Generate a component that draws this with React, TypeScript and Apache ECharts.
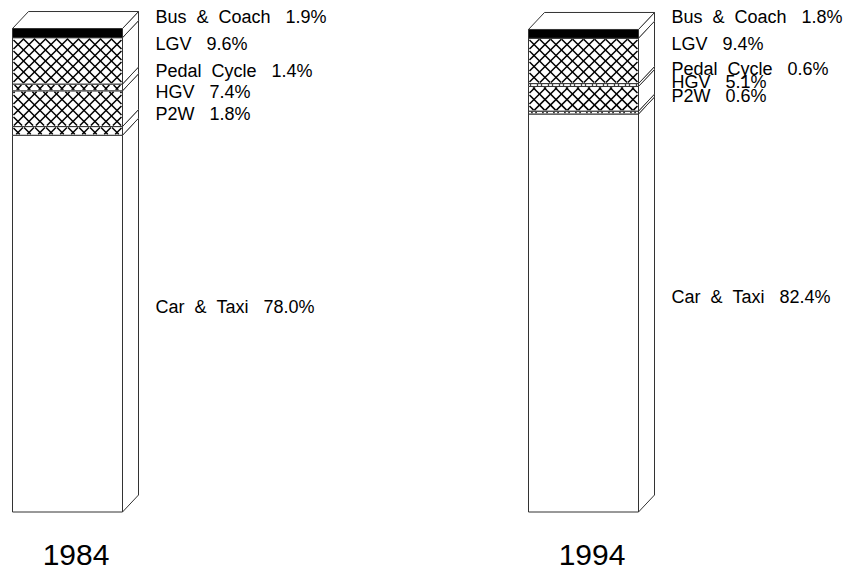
import React, { useEffect, useRef } from 'react';
import * as echarts from 'echarts';

// ---- data ----
const years = ['1984', '1994'];
const modes = ['Car & Taxi', 'P2W', 'HGV', 'Pedal Cycle', 'LGV', 'Bus & Coach'];
const carTaxi = [78.0, 82.4];
const p2w = [1.8, 0.6];
const hgv = [7.4, 5.1];
const pedalCycle = [1.4, 0.6];
const lgv = [9.6, 9.4];
const busCoach = [1.9, 1.8];

// ---- styles ----
const modeFill: Record<string, string> = {
  'Car & Taxi': 'plain',
  'P2W': 'hatch',
  'HGV': 'hatch',
  'Pedal Cycle': 'hatch',
  'LGV': 'hatch',
  'Bus & Coach': 'black',
};
const BAR_W = 110;
const DX = 16;
const DY = 17;
const HATCH = 11;
const LINE = '#333';
const FONT = "'Liberation Sans', Arial, Helvetica, sans-serif";

function labelText(name: string, v: number) {
  return name.replace(/ /g, '\u00A0\u00A0') + '\u00A0\u00A0\u00A0' + v.toFixed(1) + '%';
}

function makeRender(name: string, isTop: boolean) {
  return (params: any, api: any) => {
    const ci = api.value(0);
    const b = api.value(1);
    const t = api.value(2);
    const v = api.value(3);
    const pb = api.coord([ci, b]);
    const pt = api.coord([ci, t]);
    const p0 = api.coord([ci, 0]);
    const x0 = Math.round(pb[0] - BAR_W / 2) + 0.5;
    const x1 = x0 + BAR_W;
    const yB = pb[1];
    const yT = pt[1];
    const kind = modeFill[name];
    const children: any[] = [];

    children.push({
      type: 'rect',
      shape: { x: x0, y: yT, width: BAR_W, height: yB - yT },
      style: { fill: kind === 'black' ? '#000' : '#fff', stroke: LINE, lineWidth: 1 },
    });

    if (kind === 'hatch') {
      const xa = x0 + 1, xb = x1 - 1, ya = yT + 1, yb = yB - 1;
      if (yb > ya) {
        const ox = x0, oy = p0[1];
        // family x - y = c
        const cMinA = xa - yb, cMaxA = xb - ya;
        const base = ox - oy;
        let k = Math.ceil((cMinA - base) / HATCH);
        for (let c = base + k * HATCH; c <= cMaxA; c += HATCH) {
          const lo = Math.max(ya, xa - c), hi = Math.min(yb, xb - c);
          if (hi > lo) {
            children.push({
              type: 'line',
              shape: { x1: lo + c, y1: lo, x2: hi + c, y2: hi },
              style: { stroke: '#000', lineWidth: 1.5 },
            });
          }
        }
        // family x + y = c
        const cMinB = xa + ya, cMaxB = xb + yb;
        const baseB = ox + oy;
        k = Math.ceil((cMinB - baseB) / HATCH);
        for (let c = baseB + k * HATCH; c <= cMaxB; c += HATCH) {
          const lo = Math.max(ya, c - xb), hi = Math.min(yb, c - xa);
          if (hi > lo) {
            children.push({
              type: 'line',
              shape: { x1: c - lo, y1: lo, x2: c - hi, y2: hi },
              style: { stroke: '#000', lineWidth: 1.5 },
            });
          }
        }
      }
    }

    // side face
    children.push({
      type: 'polygon',
      shape: { points: [[x1, yT], [x1 + DX, yT - DY], [x1 + DX, yB - DY], [x1, yB]] },
      style: { fill: '#fff', stroke: LINE, lineWidth: 1 },
    });

    if (isTop) {
      children.push({
        type: 'polygon',
        shape: { points: [[x0, yT], [x0 + DX, yT - DY], [x1 + DX, yT - DY], [x1, yT]] },
        style: { fill: '#fff', stroke: LINE, lineWidth: 1 },
      });
    }

    children.push({
      type: 'text',
      style: {
        text: labelText(name, v),
        x: x1 + DX + 17,
        y: (yT + yB) / 2 - DY + 0.5,
        fill: '#000',
        fontSize: 18,
        fontFamily: FONT,
        align: 'left',
        verticalAlign: 'middle',
      },
    });

    return { type: 'group', children };
  };
}

export default function App() {
  const ref = useRef<HTMLDivElement>(null);
  useEffect(() => {
    if (!ref.current) return;
    const chart = echarts.init(ref.current, null, { renderer: 'svg' });
    const seriesValues = [carTaxi, p2w, hgv, pedalCycle, lgv, busCoach];
    const bases = years.map(() => 0);
    const series = modes.map((name, si) => {
      const data = years.map((_, ci) => {
        const v = seriesValues[si][ci];
        const b = bases[ci];
        bases[ci] = b + v;
        return [ci, b, b + v, v];
      });
      return {
        type: 'custom',
        name,
        data,
        silent: true,
        clip: false,
        encode: { x: 0, y: [1, 2] },
        renderItem: makeRender(name, si === modes.length - 1),
      };
    });
    chart.setOption({
      animation: false,
      backgroundColor: '#fff',
      grid: { left: 67, right: 264, top: 29, bottom: 58, outerBoundsMode: 'none' },
      xAxis: {
        type: 'category',
        data: years,
        boundaryGap: false,
        axisLine: { show: false },
        axisTick: { show: false },
        splitLine: { show: false },
        axisLabel: {
          fontSize: 30,
          color: '#000',
          margin: 27,
          padding: [0, 0, 0, 18],
          fontFamily: FONT,
        },
      },
      yAxis: { type: 'value', min: 0, max: 100, show: false },
      series: series as any,
    });
    return () => chart.dispose();
  }, []);
  return (
    <div
      ref={ref}
      style={{ position: 'fixed', left: 0, top: 0, width: 847, height: 570, background: '#fff' }}
    />
  );
}
